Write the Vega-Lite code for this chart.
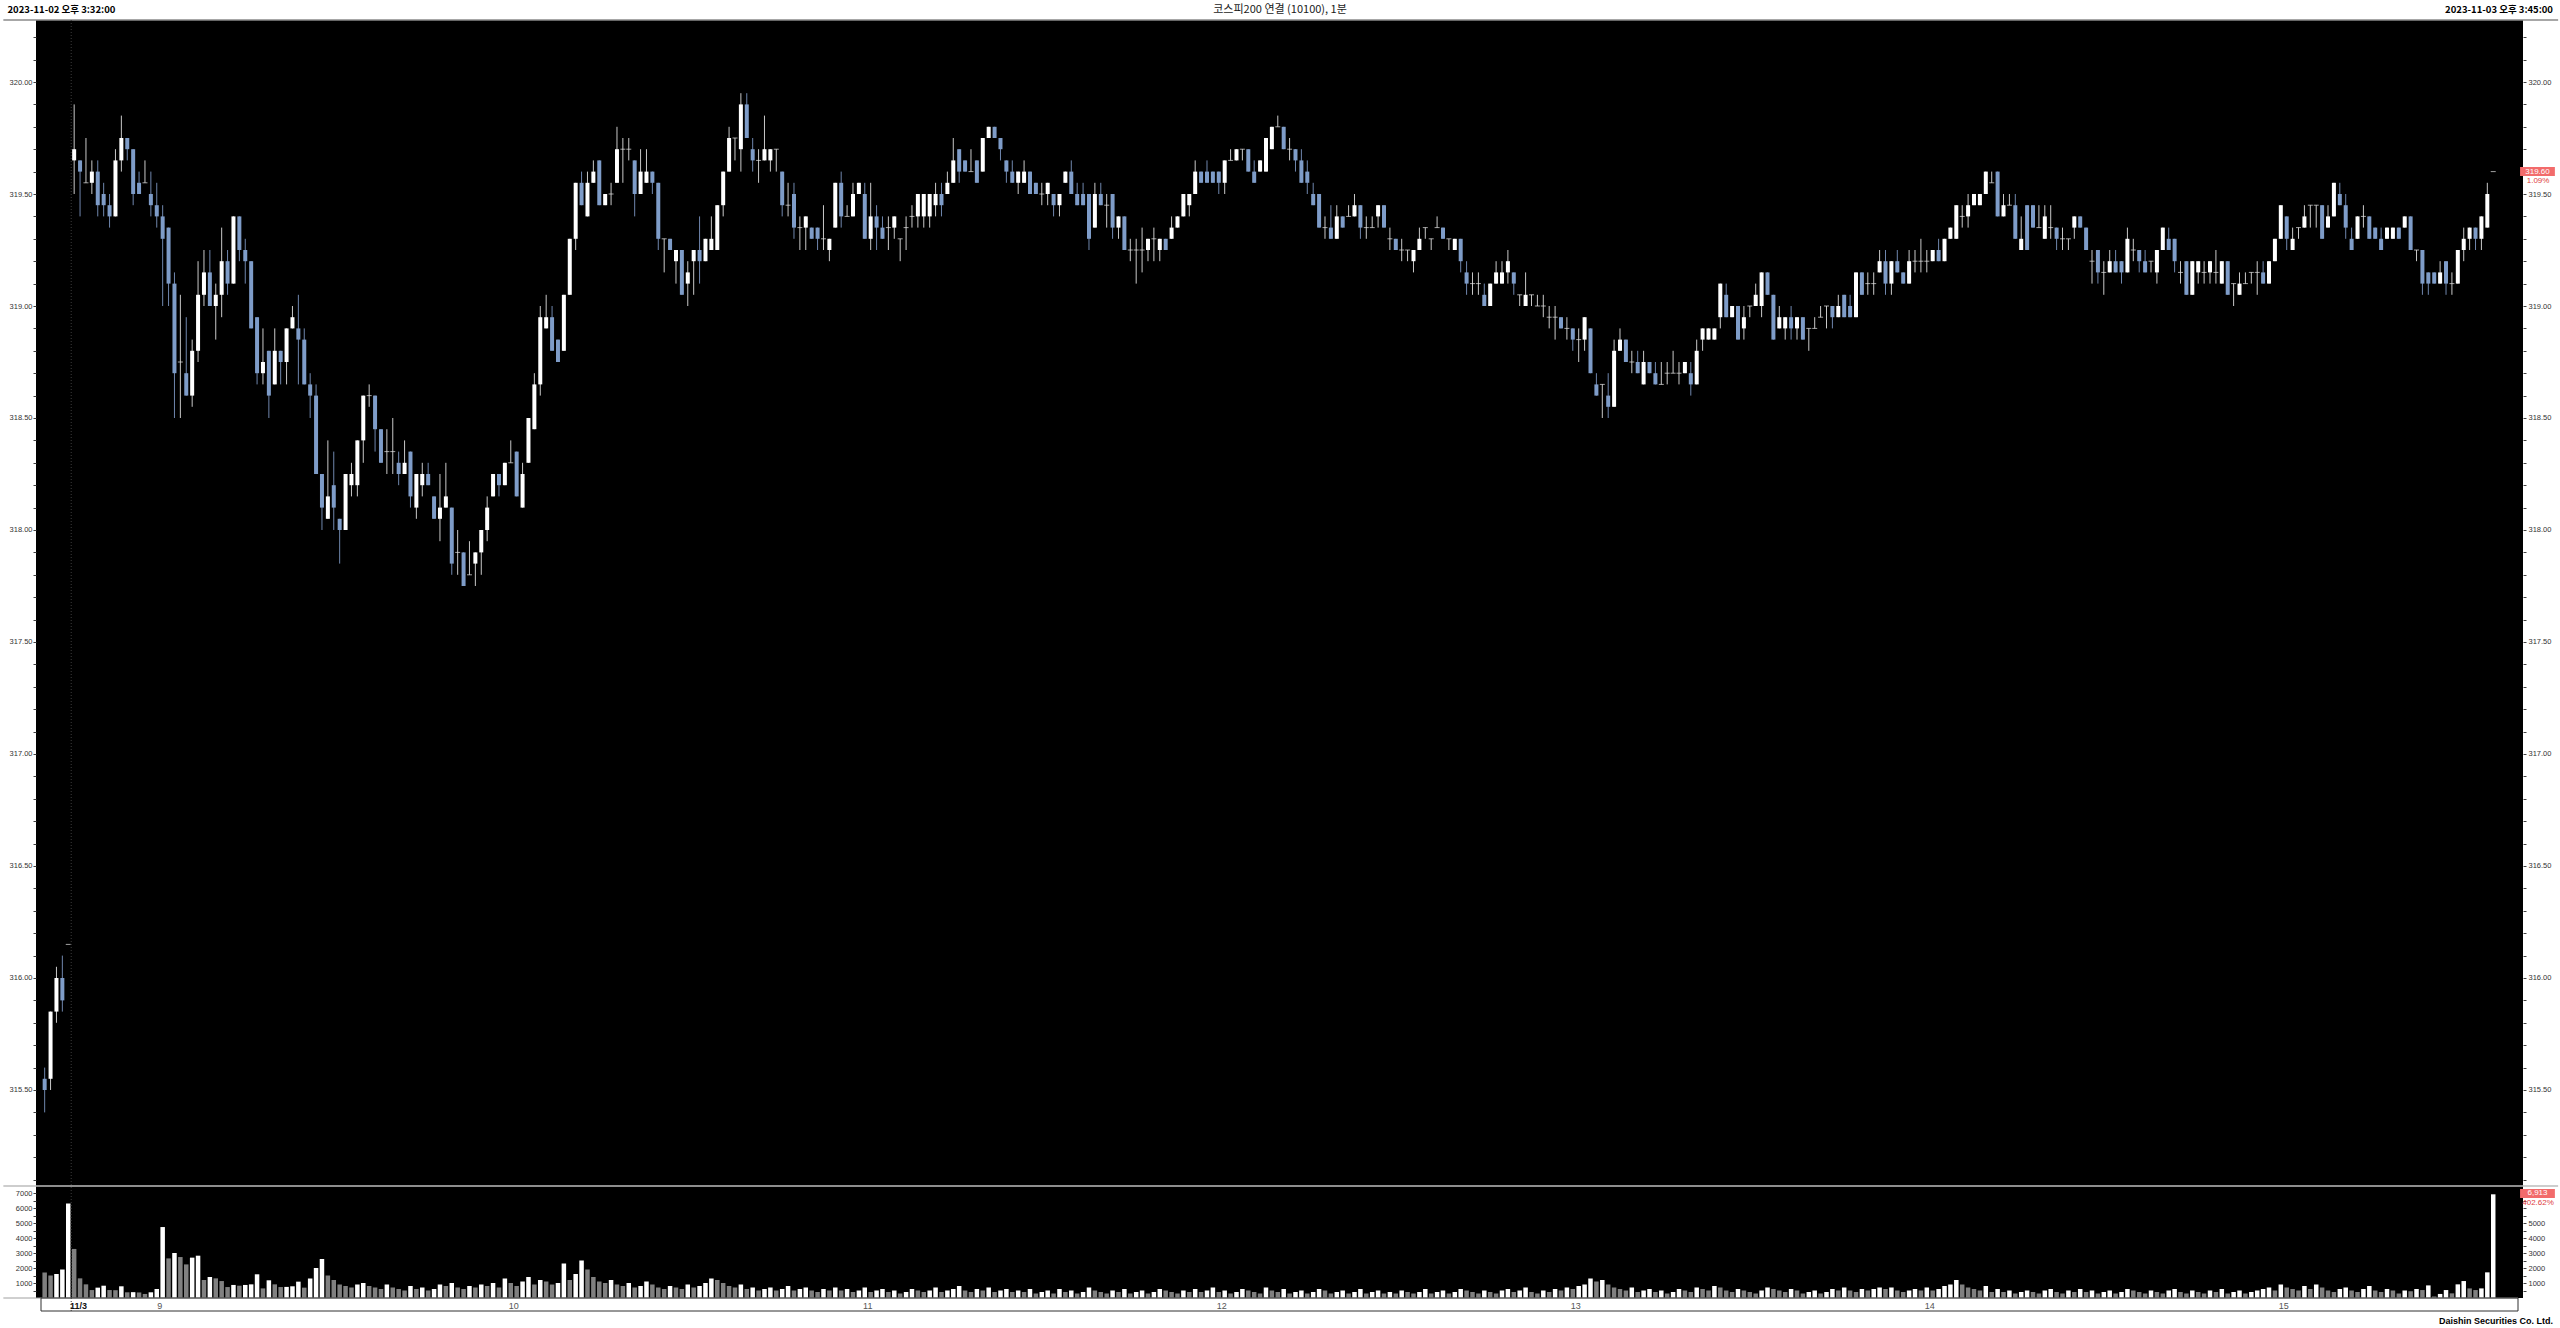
{
"$schema": "https://vega.github.io/schema/vega-lite/v6.json",
"width": 2487, "height": 1278,
"autosize": {"type": "none"},
"padding": {"left": 36, "top": 20, "right": 37, "bottom": 30},
"background": "#ffffff",
"config": {"view": {"fill": "#000000", "stroke": null}, "axis": {"labelFont": "Liberation Sans"}},
"datasets": {
"one": [{"k": 1}],
"hours": [{"i": 19.5, "t": "9"}, {"i": 79.5, "t": "10"}, {"i": 139.5, "t": "11"}, {"i": 199.5, "t": "12"}, {"i": 259.5, "t": "13"}, {"i": 319.5, "t": "14"}, {"i": 379.5, "t": "15"}],
"bars": [
{"i":0,"o":315.55,"h":315.6,"l":315.4,"c":315.5,"v":1700},
{"i":1,"o":315.55,"h":315.85,"l":315.5,"c":315.85,"v":1500},
{"i":2,"o":315.85,"h":316.05,"l":315.8,"c":316,"v":1600},
{"i":3,"o":316,"h":316.1,"l":315.85,"c":315.9,"v":1900},
{"i":4,"o":316.15,"h":316.15,"l":316.15,"c":316.15,"v":6300},
{"i":5,"o":319.65,"h":319.9,"l":319.5,"c":319.7,"v":3270},
{"i":6,"o":319.65,"h":319.65,"l":319.4,"c":319.6,"v":1310},
{"i":7,"o":319.55,"h":319.75,"l":319.55,"c":319.55,"v":910},
{"i":8,"o":319.55,"h":319.65,"l":319.5,"c":319.6,"v":530},
{"i":9,"o":319.6,"h":319.65,"l":319.4,"c":319.45,"v":690},
{"i":10,"o":319.5,"h":319.55,"l":319.4,"c":319.45,"v":820},
{"i":11,"o":319.45,"h":319.5,"l":319.35,"c":319.4,"v":530},
{"i":12,"o":319.4,"h":319.7,"l":319.4,"c":319.65,"v":520},
{"i":13,"o":319.65,"h":319.85,"l":319.6,"c":319.75,"v":780},
{"i":14,"o":319.75,"h":319.75,"l":319.65,"c":319.7,"v":380},
{"i":15,"o":319.7,"h":319.7,"l":319.45,"c":319.5,"v":390},
{"i":16,"o":319.55,"h":319.6,"l":319.5,"c":319.5,"v":370},
{"i":17,"o":319.55,"h":319.65,"l":319.55,"c":319.55,"v":270},
{"i":18,"o":319.5,"h":319.6,"l":319.4,"c":319.45,"v":380},
{"i":19,"o":319.45,"h":319.55,"l":319.35,"c":319.4,"v":600},
{"i":20,"o":319.4,"h":319.45,"l":319,"c":319.3,"v":4730},
{"i":21,"o":319.35,"h":319.35,"l":319,"c":319.1,"v":2640},
{"i":22,"o":319.1,"h":319.15,"l":318.5,"c":318.7,"v":3000},
{"i":23,"o":318.75,"h":319.05,"l":318.5,"c":318.75,"v":2730},
{"i":24,"o":318.7,"h":318.95,"l":318.6,"c":318.6,"v":2240},
{"i":25,"o":318.6,"h":318.85,"l":318.55,"c":318.8,"v":2690},
{"i":26,"o":318.8,"h":319.2,"l":318.75,"c":319.05,"v":2820},
{"i":27,"o":319.05,"h":319.25,"l":319,"c":319.15,"v":1200},
{"i":28,"o":319.15,"h":319.25,"l":319,"c":319,"v":1400},
{"i":29,"o":319,"h":319.1,"l":318.85,"c":319.05,"v":1310},
{"i":30,"o":319.05,"h":319.35,"l":318.95,"c":319.2,"v":1130},
{"i":31,"o":319.2,"h":319.25,"l":319.05,"c":319.1,"v":730},
{"i":32,"o":319.1,"h":319.4,"l":319.1,"c":319.4,"v":870},
{"i":33,"o":319.4,"h":319.4,"l":319.2,"c":319.25,"v":820},
{"i":34,"o":319.25,"h":319.3,"l":319.1,"c":319.2,"v":870},
{"i":35,"o":319.2,"h":319.2,"l":318.9,"c":318.9,"v":910},
{"i":36,"o":318.95,"h":318.95,"l":318.65,"c":318.7,"v":1580},
{"i":37,"o":318.7,"h":318.9,"l":318.65,"c":318.75,"v":640},
{"i":38,"o":318.8,"h":318.8,"l":318.5,"c":318.6,"v":1180},
{"i":39,"o":318.65,"h":318.9,"l":318.65,"c":318.8,"v":910},
{"i":40,"o":318.8,"h":318.8,"l":318.65,"c":318.75,"v":730},
{"i":41,"o":318.75,"h":318.9,"l":318.65,"c":318.9,"v":740},
{"i":42,"o":318.9,"h":319,"l":318.9,"c":318.95,"v":780},
{"i":43,"o":318.9,"h":319.05,"l":318.65,"c":318.85,"v":1090},
{"i":44,"o":318.85,"h":318.9,"l":318.65,"c":318.65,"v":690},
{"i":45,"o":318.65,"h":318.7,"l":318.5,"c":318.6,"v":1300},
{"i":46,"o":318.6,"h":318.65,"l":318.25,"c":318.25,"v":2000},
{"i":47,"o":318.25,"h":318.25,"l":318,"c":318.1,"v":2600},
{"i":48,"o":318.05,"h":318.4,"l":318.05,"c":318.15,"v":1500},
{"i":49,"o":318.2,"h":318.35,"l":318,"c":318.1,"v":1200},
{"i":50,"o":318.05,"h":318.05,"l":317.85,"c":318,"v":900},
{"i":51,"o":318,"h":318.25,"l":318,"c":318.25,"v":800},
{"i":52,"o":318.2,"h":318.3,"l":318.15,"c":318.25,"v":700},
{"i":53,"o":318.2,"h":318.4,"l":318.15,"c":318.4,"v":900},
{"i":54,"o":318.4,"h":318.6,"l":318.3,"c":318.6,"v":1000},
{"i":55,"o":318.6,"h":318.65,"l":318.55,"c":318.6,"v":800},
{"i":56,"o":318.6,"h":318.6,"l":318.35,"c":318.45,"v":700},
{"i":57,"o":318.45,"h":318.45,"l":318.3,"c":318.3,"v":600},
{"i":58,"o":318.35,"h":318.45,"l":318.25,"c":318.35,"v":900},
{"i":59,"o":318.35,"h":318.5,"l":318.25,"c":318.35,"v":700},
{"i":60,"o":318.3,"h":318.35,"l":318.2,"c":318.25,"v":600},
{"i":61,"o":318.25,"h":318.4,"l":318.25,"c":318.3,"v":500},
{"i":62,"o":318.35,"h":318.35,"l":318.1,"c":318.15,"v":800},
{"i":63,"o":318.1,"h":318.25,"l":318.05,"c":318.25,"v":600},
{"i":64,"o":318.2,"h":318.3,"l":318.15,"c":318.25,"v":700},
{"i":65,"o":318.25,"h":318.3,"l":318.2,"c":318.2,"v":500},
{"i":66,"o":318.15,"h":318.15,"l":318.05,"c":318.05,"v":600},
{"i":67,"o":318.05,"h":318.25,"l":317.95,"c":318.1,"v":900},
{"i":68,"o":318.1,"h":318.3,"l":318.1,"c":318.15,"v":800},
{"i":69,"o":318.1,"h":318.1,"l":317.8,"c":317.85,"v":1000},
{"i":70,"o":317.9,"h":318,"l":317.8,"c":317.9,"v":700},
{"i":71,"o":317.9,"h":317.9,"l":317.75,"c":317.75,"v":600},
{"i":72,"o":317.8,"h":317.95,"l":317.8,"c":317.8,"v":800},
{"i":73,"o":317.85,"h":317.9,"l":317.75,"c":317.9,"v":700},
{"i":74,"o":317.9,"h":318,"l":317.8,"c":318,"v":900},
{"i":75,"o":318,"h":318.15,"l":317.95,"c":318.1,"v":800},
{"i":76,"o":318.15,"h":318.25,"l":318.15,"c":318.25,"v":1000},
{"i":77,"o":318.25,"h":318.25,"l":318.15,"c":318.2,"v":700},
{"i":78,"o":318.2,"h":318.3,"l":318.2,"c":318.3,"v":1300},
{"i":79,"o":318.3,"h":318.4,"l":318.3,"c":318.3,"v":1000},
{"i":80,"o":318.35,"h":318.35,"l":318.15,"c":318.15,"v":800},
{"i":81,"o":318.1,"h":318.3,"l":318.1,"c":318.25,"v":1100},
{"i":82,"o":318.3,"h":318.5,"l":318.3,"c":318.5,"v":1400},
{"i":83,"o":318.45,"h":318.7,"l":318.45,"c":318.65,"v":900},
{"i":84,"o":318.65,"h":319,"l":318.6,"c":318.95,"v":1200},
{"i":85,"o":318.9,"h":319.05,"l":318.9,"c":318.95,"v":1100},
{"i":86,"o":318.95,"h":319,"l":318.8,"c":318.8,"v":900},
{"i":87,"o":318.85,"h":318.85,"l":318.75,"c":318.75,"v":1000},
{"i":88,"o":318.8,"h":319.05,"l":318.8,"c":319.05,"v":2300},
{"i":89,"o":319.05,"h":319.3,"l":319.05,"c":319.3,"v":1200},
{"i":90,"o":319.3,"h":319.55,"l":319.25,"c":319.55,"v":1600},
{"i":91,"o":319.55,"h":319.6,"l":319.45,"c":319.45,"v":2500},
{"i":92,"o":319.4,"h":319.6,"l":319.4,"c":319.55,"v":1900},
{"i":93,"o":319.55,"h":319.65,"l":319.55,"c":319.6,"v":1400},
{"i":94,"o":319.65,"h":319.65,"l":319.45,"c":319.45,"v":1100},
{"i":95,"o":319.45,"h":319.5,"l":319.45,"c":319.5,"v":1000},
{"i":96,"o":319.5,"h":319.55,"l":319.45,"c":319.5,"v":1200},
{"i":97,"o":319.55,"h":319.8,"l":319.55,"c":319.7,"v":900},
{"i":98,"o":319.7,"h":319.75,"l":319.55,"c":319.7,"v":800},
{"i":99,"o":319.7,"h":319.75,"l":319.65,"c":319.7,"v":1000},
{"i":100,"o":319.65,"h":319.65,"l":319.4,"c":319.5,"v":700},
{"i":101,"o":319.5,"h":319.7,"l":319.5,"c":319.6,"v":800},
{"i":102,"o":319.55,"h":319.7,"l":319.55,"c":319.6,"v":1100},
{"i":103,"o":319.6,"h":319.6,"l":319.5,"c":319.55,"v":900},
{"i":104,"o":319.55,"h":319.55,"l":319.25,"c":319.3,"v":700},
{"i":105,"o":319.3,"h":319.3,"l":319.15,"c":319.3,"v":600},
{"i":106,"o":319.3,"h":319.3,"l":319.25,"c":319.25,"v":800},
{"i":107,"o":319.2,"h":319.25,"l":319.1,"c":319.25,"v":700},
{"i":108,"o":319.25,"h":319.25,"l":319.05,"c":319.05,"v":600},
{"i":109,"o":319.1,"h":319.2,"l":319,"c":319.15,"v":900},
{"i":110,"o":319.2,"h":319.25,"l":319.05,"c":319.25,"v":700},
{"i":111,"o":319.25,"h":319.4,"l":319.1,"c":319.2,"v":800},
{"i":112,"o":319.2,"h":319.3,"l":319.2,"c":319.3,"v":1000},
{"i":113,"o":319.25,"h":319.4,"l":319.25,"c":319.3,"v":1300},
{"i":114,"o":319.25,"h":319.45,"l":319.25,"c":319.45,"v":1200},
{"i":115,"o":319.45,"h":319.6,"l":319.4,"c":319.6,"v":1000},
{"i":116,"o":319.6,"h":319.8,"l":319.6,"c":319.75,"v":800},
{"i":117,"o":319.75,"h":319.75,"l":319.65,"c":319.75,"v":700},
{"i":118,"o":319.7,"h":319.95,"l":319.6,"c":319.9,"v":900},
{"i":119,"o":319.9,"h":319.95,"l":319.75,"c":319.75,"v":600},
{"i":120,"o":319.7,"h":319.75,"l":319.6,"c":319.65,"v":700},
{"i":121,"o":319.65,"h":319.7,"l":319.55,"c":319.65,"v":500},
{"i":122,"o":319.65,"h":319.85,"l":319.65,"c":319.7,"v":600},
{"i":123,"o":319.65,"h":319.7,"l":319.6,"c":319.7,"v":700},
{"i":124,"o":319.7,"h":319.7,"l":319.6,"c":319.7,"v":500},
{"i":125,"o":319.6,"h":319.6,"l":319.4,"c":319.45,"v":600},
{"i":126,"o":319.45,"h":319.55,"l":319.4,"c":319.45,"v":800},
{"i":127,"o":319.5,"h":319.55,"l":319.3,"c":319.35,"v":500},
{"i":128,"o":319.35,"h":319.4,"l":319.25,"c":319.35,"v":600},
{"i":129,"o":319.35,"h":319.4,"l":319.25,"c":319.4,"v":700},
{"i":130,"o":319.35,"h":319.35,"l":319.3,"c":319.3,"v":500},
{"i":131,"o":319.35,"h":319.35,"l":319.25,"c":319.3,"v":400},
{"i":132,"o":319.3,"h":319.45,"l":319.25,"c":319.3,"v":600},
{"i":133,"o":319.25,"h":319.3,"l":319.2,"c":319.3,"v":500},
{"i":134,"o":319.35,"h":319.55,"l":319.35,"c":319.55,"v":700},
{"i":135,"o":319.55,"h":319.6,"l":319.35,"c":319.4,"v":500},
{"i":136,"o":319.4,"h":319.45,"l":319.4,"c":319.4,"v":600},
{"i":137,"o":319.4,"h":319.55,"l":319.4,"c":319.5,"v":400},
{"i":138,"o":319.5,"h":319.55,"l":319.5,"c":319.55,"v":500},
{"i":139,"o":319.5,"h":319.55,"l":319.3,"c":319.3,"v":700},
{"i":140,"o":319.3,"h":319.55,"l":319.25,"c":319.4,"v":400},
{"i":141,"o":319.4,"h":319.45,"l":319.25,"c":319.35,"v":500},
{"i":142,"o":319.35,"h":319.4,"l":319.3,"c":319.3,"v":600},
{"i":143,"o":319.35,"h":319.4,"l":319.25,"c":319.35,"v":400},
{"i":144,"o":319.35,"h":319.4,"l":319.3,"c":319.4,"v":500},
{"i":145,"o":319.3,"h":319.3,"l":319.2,"c":319.3,"v":300},
{"i":146,"o":319.35,"h":319.4,"l":319.25,"c":319.35,"v":400},
{"i":147,"o":319.4,"h":319.45,"l":319.35,"c":319.4,"v":600},
{"i":148,"o":319.4,"h":319.5,"l":319.35,"c":319.5,"v":500},
{"i":149,"o":319.4,"h":319.5,"l":319.35,"c":319.5,"v":400},
{"i":150,"o":319.4,"h":319.5,"l":319.35,"c":319.5,"v":500},
{"i":151,"o":319.45,"h":319.55,"l":319.4,"c":319.5,"v":700},
{"i":152,"o":319.5,"h":319.55,"l":319.4,"c":319.45,"v":400},
{"i":153,"o":319.5,"h":319.6,"l":319.5,"c":319.55,"v":500},
{"i":154,"o":319.55,"h":319.75,"l":319.55,"c":319.65,"v":600},
{"i":155,"o":319.7,"h":319.7,"l":319.55,"c":319.6,"v":800},
{"i":156,"o":319.65,"h":319.65,"l":319.6,"c":319.6,"v":500},
{"i":157,"o":319.6,"h":319.7,"l":319.6,"c":319.6,"v":400},
{"i":158,"o":319.65,"h":319.65,"l":319.55,"c":319.55,"v":600},
{"i":159,"o":319.6,"h":319.75,"l":319.6,"c":319.75,"v":500},
{"i":160,"o":319.75,"h":319.8,"l":319.75,"c":319.8,"v":700},
{"i":161,"o":319.8,"h":319.8,"l":319.75,"c":319.75,"v":400},
{"i":162,"o":319.75,"h":319.75,"l":319.65,"c":319.7,"v":500},
{"i":163,"o":319.65,"h":319.65,"l":319.55,"c":319.6,"v":600},
{"i":164,"o":319.6,"h":319.65,"l":319.55,"c":319.55,"v":400},
{"i":165,"o":319.55,"h":319.6,"l":319.5,"c":319.6,"v":500},
{"i":166,"o":319.55,"h":319.65,"l":319.55,"c":319.6,"v":400},
{"i":167,"o":319.6,"h":319.6,"l":319.5,"c":319.5,"v":600},
{"i":168,"o":319.55,"h":319.55,"l":319.5,"c":319.5,"v":300},
{"i":169,"o":319.5,"h":319.55,"l":319.45,"c":319.5,"v":400},
{"i":170,"o":319.5,"h":319.55,"l":319.45,"c":319.55,"v":500},
{"i":171,"o":319.5,"h":319.5,"l":319.4,"c":319.45,"v":300},
{"i":172,"o":319.45,"h":319.5,"l":319.4,"c":319.5,"v":600},
{"i":173,"o":319.55,"h":319.6,"l":319.55,"c":319.6,"v":400},
{"i":174,"o":319.6,"h":319.65,"l":319.5,"c":319.5,"v":500},
{"i":175,"o":319.5,"h":319.55,"l":319.45,"c":319.45,"v":300},
{"i":176,"o":319.5,"h":319.55,"l":319.45,"c":319.45,"v":400},
{"i":177,"o":319.5,"h":319.5,"l":319.25,"c":319.3,"v":700},
{"i":178,"o":319.35,"h":319.55,"l":319.35,"c":319.5,"v":500},
{"i":179,"o":319.5,"h":319.55,"l":319.45,"c":319.45,"v":400},
{"i":180,"o":319.45,"h":319.5,"l":319.35,"c":319.45,"v":300},
{"i":181,"o":319.5,"h":319.5,"l":319.3,"c":319.35,"v":500},
{"i":182,"o":319.35,"h":319.4,"l":319.3,"c":319.4,"v":400},
{"i":183,"o":319.4,"h":319.4,"l":319.25,"c":319.25,"v":600},
{"i":184,"o":319.25,"h":319.3,"l":319.2,"c":319.25,"v":300},
{"i":185,"o":319.25,"h":319.3,"l":319.1,"c":319.25,"v":400},
{"i":186,"o":319.25,"h":319.35,"l":319.15,"c":319.25,"v":500},
{"i":187,"o":319.25,"h":319.3,"l":319.2,"c":319.3,"v":300},
{"i":188,"o":319.3,"h":319.35,"l":319.2,"c":319.3,"v":400},
{"i":189,"o":319.25,"h":319.3,"l":319.2,"c":319.3,"v":600},
{"i":190,"o":319.3,"h":319.3,"l":319.25,"c":319.25,"v":500},
{"i":191,"o":319.3,"h":319.4,"l":319.3,"c":319.35,"v":400},
{"i":192,"o":319.35,"h":319.4,"l":319.35,"c":319.4,"v":300},
{"i":193,"o":319.4,"h":319.5,"l":319.4,"c":319.5,"v":500},
{"i":194,"o":319.45,"h":319.5,"l":319.4,"c":319.5,"v":400},
{"i":195,"o":319.5,"h":319.65,"l":319.5,"c":319.6,"v":600},
{"i":196,"o":319.6,"h":319.6,"l":319.55,"c":319.55,"v":400},
{"i":197,"o":319.6,"h":319.65,"l":319.55,"c":319.55,"v":500},
{"i":198,"o":319.6,"h":319.6,"l":319.55,"c":319.55,"v":700},
{"i":199,"o":319.6,"h":319.6,"l":319.5,"c":319.55,"v":400},
{"i":200,"o":319.55,"h":319.65,"l":319.5,"c":319.65,"v":500},
{"i":201,"o":319.65,"h":319.7,"l":319.65,"c":319.65,"v":300},
{"i":202,"o":319.65,"h":319.7,"l":319.65,"c":319.7,"v":400},
{"i":203,"o":319.7,"h":319.7,"l":319.65,"c":319.7,"v":600},
{"i":204,"o":319.7,"h":319.7,"l":319.6,"c":319.6,"v":500},
{"i":205,"o":319.6,"h":319.65,"l":319.55,"c":319.55,"v":400},
{"i":206,"o":319.6,"h":319.65,"l":319.6,"c":319.65,"v":300},
{"i":207,"o":319.6,"h":319.75,"l":319.6,"c":319.75,"v":700},
{"i":208,"o":319.7,"h":319.8,"l":319.7,"c":319.8,"v":500},
{"i":209,"o":319.8,"h":319.85,"l":319.8,"c":319.8,"v":400},
{"i":210,"o":319.8,"h":319.8,"l":319.7,"c":319.7,"v":600},
{"i":211,"o":319.7,"h":319.75,"l":319.65,"c":319.7,"v":300},
{"i":212,"o":319.7,"h":319.7,"l":319.6,"c":319.65,"v":400},
{"i":213,"o":319.65,"h":319.7,"l":319.55,"c":319.55,"v":500},
{"i":214,"o":319.6,"h":319.65,"l":319.5,"c":319.55,"v":300},
{"i":215,"o":319.5,"h":319.55,"l":319.45,"c":319.45,"v":400},
{"i":216,"o":319.5,"h":319.5,"l":319.35,"c":319.35,"v":600},
{"i":217,"o":319.35,"h":319.4,"l":319.3,"c":319.35,"v":500},
{"i":218,"o":319.35,"h":319.45,"l":319.3,"c":319.3,"v":300},
{"i":219,"o":319.3,"h":319.45,"l":319.3,"c":319.4,"v":400},
{"i":220,"o":319.4,"h":319.4,"l":319.35,"c":319.35,"v":500},
{"i":221,"o":319.4,"h":319.45,"l":319.4,"c":319.4,"v":300},
{"i":222,"o":319.4,"h":319.5,"l":319.4,"c":319.45,"v":400},
{"i":223,"o":319.45,"h":319.45,"l":319.3,"c":319.35,"v":600},
{"i":224,"o":319.35,"h":319.4,"l":319.3,"c":319.35,"v":300},
{"i":225,"o":319.35,"h":319.4,"l":319.35,"c":319.35,"v":400},
{"i":226,"o":319.4,"h":319.45,"l":319.35,"c":319.45,"v":500},
{"i":227,"o":319.45,"h":319.45,"l":319.35,"c":319.35,"v":300},
{"i":228,"o":319.3,"h":319.35,"l":319.25,"c":319.3,"v":400},
{"i":229,"o":319.3,"h":319.3,"l":319.25,"c":319.25,"v":300},
{"i":230,"o":319.25,"h":319.3,"l":319.2,"c":319.25,"v":500},
{"i":231,"o":319.25,"h":319.25,"l":319.2,"c":319.25,"v":400},
{"i":232,"o":319.2,"h":319.25,"l":319.15,"c":319.25,"v":300},
{"i":233,"o":319.25,"h":319.35,"l":319.25,"c":319.3,"v":400},
{"i":234,"o":319.35,"h":319.35,"l":319.3,"c":319.35,"v":600},
{"i":235,"o":319.3,"h":319.3,"l":319.25,"c":319.3,"v":300},
{"i":236,"o":319.35,"h":319.4,"l":319.35,"c":319.35,"v":400},
{"i":237,"o":319.35,"h":319.35,"l":319.3,"c":319.3,"v":500},
{"i":238,"o":319.3,"h":319.3,"l":319.25,"c":319.3,"v":300},
{"i":239,"o":319.25,"h":319.3,"l":319.25,"c":319.3,"v":400},
{"i":240,"o":319.3,"h":319.3,"l":319.15,"c":319.2,"v":600},
{"i":241,"o":319.15,"h":319.2,"l":319.05,"c":319.1,"v":500},
{"i":242,"o":319.1,"h":319.15,"l":319.05,"c":319.1,"v":400},
{"i":243,"o":319.1,"h":319.15,"l":319.05,"c":319.1,"v":300},
{"i":244,"o":319.05,"h":319.1,"l":319,"c":319,"v":500},
{"i":245,"o":319,"h":319.1,"l":319,"c":319.1,"v":400},
{"i":246,"o":319.1,"h":319.2,"l":319.1,"c":319.15,"v":300},
{"i":247,"o":319.1,"h":319.2,"l":319.1,"c":319.15,"v":500},
{"i":248,"o":319.15,"h":319.25,"l":319.1,"c":319.2,"v":600},
{"i":249,"o":319.15,"h":319.15,"l":319.05,"c":319.1,"v":400},
{"i":250,"o":319.05,"h":319.05,"l":319,"c":319.05,"v":500},
{"i":251,"o":319,"h":319.15,"l":319,"c":319.05,"v":700},
{"i":252,"o":319.05,"h":319.05,"l":319,"c":319.05,"v":400},
{"i":253,"o":319,"h":319.05,"l":319,"c":319,"v":300},
{"i":254,"o":319,"h":319.05,"l":318.95,"c":319,"v":500},
{"i":255,"o":318.95,"h":319,"l":318.9,"c":318.95,"v":400},
{"i":256,"o":318.95,"h":319,"l":318.85,"c":318.95,"v":600},
{"i":257,"o":318.95,"h":318.95,"l":318.9,"c":318.9,"v":500},
{"i":258,"o":318.9,"h":318.95,"l":318.85,"c":318.9,"v":700},
{"i":259,"o":318.9,"h":318.9,"l":318.8,"c":318.85,"v":600},
{"i":260,"o":318.85,"h":318.9,"l":318.75,"c":318.85,"v":800},
{"i":261,"o":318.85,"h":318.95,"l":318.8,"c":318.95,"v":900},
{"i":262,"o":318.9,"h":318.9,"l":318.7,"c":318.7,"v":1300},
{"i":263,"o":318.65,"h":318.7,"l":318.6,"c":318.6,"v":1100},
{"i":264,"o":318.65,"h":318.65,"l":318.5,"c":318.65,"v":1200},
{"i":265,"o":318.6,"h":318.7,"l":318.5,"c":318.55,"v":900},
{"i":266,"o":318.55,"h":318.85,"l":318.55,"c":318.8,"v":700},
{"i":267,"o":318.8,"h":318.9,"l":318.8,"c":318.85,"v":600},
{"i":268,"o":318.85,"h":318.85,"l":318.75,"c":318.75,"v":500},
{"i":269,"o":318.75,"h":318.8,"l":318.7,"c":318.75,"v":700},
{"i":270,"o":318.75,"h":318.8,"l":318.7,"c":318.7,"v":400},
{"i":271,"o":318.65,"h":318.8,"l":318.65,"c":318.75,"v":500},
{"i":272,"o":318.75,"h":318.75,"l":318.7,"c":318.7,"v":600},
{"i":273,"o":318.7,"h":318.75,"l":318.65,"c":318.65,"v":400},
{"i":274,"o":318.65,"h":318.75,"l":318.65,"c":318.65,"v":500},
{"i":275,"o":318.7,"h":318.75,"l":318.65,"c":318.7,"v":300},
{"i":276,"o":318.7,"h":318.8,"l":318.7,"c":318.7,"v":400},
{"i":277,"o":318.7,"h":318.75,"l":318.65,"c":318.7,"v":600},
{"i":278,"o":318.7,"h":318.75,"l":318.7,"c":318.75,"v":500},
{"i":279,"o":318.7,"h":318.75,"l":318.6,"c":318.65,"v":400},
{"i":280,"o":318.65,"h":318.85,"l":318.65,"c":318.8,"v":700},
{"i":281,"o":318.85,"h":318.9,"l":318.8,"c":318.9,"v":600},
{"i":282,"o":318.85,"h":318.9,"l":318.85,"c":318.9,"v":500},
{"i":283,"o":318.85,"h":318.9,"l":318.85,"c":318.9,"v":800},
{"i":284,"o":318.95,"h":319.1,"l":318.9,"c":319.1,"v":700},
{"i":285,"o":319.05,"h":319.1,"l":318.95,"c":318.95,"v":500},
{"i":286,"o":318.95,"h":319,"l":318.95,"c":319,"v":400},
{"i":287,"o":319,"h":319,"l":318.85,"c":318.85,"v":600},
{"i":288,"o":318.9,"h":319,"l":318.85,"c":318.95,"v":500},
{"i":289,"o":319,"h":319,"l":318.95,"c":319,"v":400},
{"i":290,"o":319,"h":319.1,"l":319,"c":319.05,"v":300},
{"i":291,"o":319,"h":319.15,"l":318.95,"c":319.15,"v":500},
{"i":292,"o":319.15,"h":319.15,"l":319.05,"c":319.05,"v":700},
{"i":293,"o":319.05,"h":319.05,"l":318.85,"c":318.85,"v":600},
{"i":294,"o":318.9,"h":319,"l":318.9,"c":318.95,"v":500},
{"i":295,"o":318.9,"h":318.95,"l":318.85,"c":318.95,"v":400},
{"i":296,"o":318.95,"h":319,"l":318.85,"c":318.9,"v":600},
{"i":297,"o":318.9,"h":318.95,"l":318.85,"c":318.95,"v":500},
{"i":298,"o":318.95,"h":318.95,"l":318.85,"c":318.85,"v":300},
{"i":299,"o":318.9,"h":318.9,"l":318.8,"c":318.9,"v":400},
{"i":300,"o":318.9,"h":318.95,"l":318.9,"c":318.9,"v":500},
{"i":301,"o":318.95,"h":319,"l":318.95,"c":318.95,"v":300},
{"i":302,"o":319,"h":319,"l":318.9,"c":319,"v":400},
{"i":303,"o":319,"h":319,"l":318.9,"c":318.95,"v":600},
{"i":304,"o":318.95,"h":319.05,"l":318.95,"c":319,"v":500},
{"i":305,"o":319.05,"h":319.05,"l":318.95,"c":318.95,"v":700},
{"i":306,"o":319,"h":319.05,"l":318.95,"c":318.95,"v":500},
{"i":307,"o":318.95,"h":319.15,"l":318.95,"c":319.15,"v":400},
{"i":308,"o":319.15,"h":319.15,"l":319.05,"c":319.05,"v":600},
{"i":309,"o":319.1,"h":319.15,"l":319.05,"c":319.1,"v":500},
{"i":310,"o":319.1,"h":319.15,"l":319.05,"c":319.1,"v":600},
{"i":311,"o":319.15,"h":319.25,"l":319.15,"c":319.2,"v":700},
{"i":312,"o":319.2,"h":319.25,"l":319.05,"c":319.1,"v":600},
{"i":313,"o":319.1,"h":319.2,"l":319.05,"c":319.2,"v":700},
{"i":314,"o":319.2,"h":319.25,"l":319.15,"c":319.15,"v":500},
{"i":315,"o":319.15,"h":319.15,"l":319.1,"c":319.1,"v":400},
{"i":316,"o":319.1,"h":319.25,"l":319.1,"c":319.2,"v":500},
{"i":317,"o":319.2,"h":319.25,"l":319.15,"c":319.2,"v":600},
{"i":318,"o":319.2,"h":319.3,"l":319.15,"c":319.2,"v":500},
{"i":319,"o":319.2,"h":319.25,"l":319.15,"c":319.2,"v":700},
{"i":320,"o":319.2,"h":319.25,"l":319.2,"c":319.25,"v":500},
{"i":321,"o":319.25,"h":319.3,"l":319.2,"c":319.2,"v":600},
{"i":322,"o":319.2,"h":319.3,"l":319.2,"c":319.3,"v":800},
{"i":323,"o":319.3,"h":319.35,"l":319.3,"c":319.35,"v":900},
{"i":324,"o":319.3,"h":319.45,"l":319.3,"c":319.45,"v":1200},
{"i":325,"o":319.4,"h":319.45,"l":319.35,"c":319.4,"v":900},
{"i":326,"o":319.4,"h":319.5,"l":319.35,"c":319.45,"v":700},
{"i":327,"o":319.45,"h":319.5,"l":319.45,"c":319.5,"v":600},
{"i":328,"o":319.45,"h":319.5,"l":319.45,"c":319.5,"v":500},
{"i":329,"o":319.5,"h":319.6,"l":319.5,"c":319.6,"v":800},
{"i":330,"o":319.55,"h":319.6,"l":319.55,"c":319.55,"v":400},
{"i":331,"o":319.6,"h":319.6,"l":319.4,"c":319.4,"v":600},
{"i":332,"o":319.4,"h":319.5,"l":319.4,"c":319.45,"v":400},
{"i":333,"o":319.45,"h":319.5,"l":319.45,"c":319.45,"v":500},
{"i":334,"o":319.45,"h":319.5,"l":319.3,"c":319.3,"v":300},
{"i":335,"o":319.25,"h":319.4,"l":319.25,"c":319.3,"v":400},
{"i":336,"o":319.45,"h":319.45,"l":319.25,"c":319.25,"v":500},
{"i":337,"o":319.45,"h":319.45,"l":319.35,"c":319.35,"v":400},
{"i":338,"o":319.35,"h":319.45,"l":319.35,"c":319.35,"v":300},
{"i":339,"o":319.3,"h":319.45,"l":319.3,"c":319.4,"v":500},
{"i":340,"o":319.35,"h":319.45,"l":319.3,"c":319.35,"v":600},
{"i":341,"o":319.35,"h":319.35,"l":319.25,"c":319.3,"v":400},
{"i":342,"o":319.3,"h":319.35,"l":319.25,"c":319.3,"v":300},
{"i":343,"o":319.3,"h":319.3,"l":319.25,"c":319.3,"v":500},
{"i":344,"o":319.35,"h":319.4,"l":319.3,"c":319.4,"v":400},
{"i":345,"o":319.4,"h":319.4,"l":319.35,"c":319.35,"v":600},
{"i":346,"o":319.35,"h":319.35,"l":319.25,"c":319.25,"v":400},
{"i":347,"o":319.2,"h":319.25,"l":319.1,"c":319.2,"v":500},
{"i":348,"o":319.25,"h":319.25,"l":319.1,"c":319.15,"v":300},
{"i":349,"o":319.15,"h":319.2,"l":319.05,"c":319.15,"v":400},
{"i":350,"o":319.15,"h":319.25,"l":319.15,"c":319.2,"v":500},
{"i":351,"o":319.2,"h":319.25,"l":319.15,"c":319.15,"v":300},
{"i":352,"o":319.2,"h":319.2,"l":319.1,"c":319.15,"v":400},
{"i":353,"o":319.15,"h":319.35,"l":319.15,"c":319.3,"v":600},
{"i":354,"o":319.25,"h":319.3,"l":319.2,"c":319.25,"v":500},
{"i":355,"o":319.25,"h":319.25,"l":319.15,"c":319.2,"v":400},
{"i":356,"o":319.2,"h":319.25,"l":319.15,"c":319.15,"v":300},
{"i":357,"o":319.2,"h":319.2,"l":319.15,"c":319.2,"v":500},
{"i":358,"o":319.15,"h":319.25,"l":319.1,"c":319.25,"v":400},
{"i":359,"o":319.25,"h":319.35,"l":319.25,"c":319.35,"v":300},
{"i":360,"o":319.3,"h":319.35,"l":319.25,"c":319.25,"v":500},
{"i":361,"o":319.3,"h":319.3,"l":319.15,"c":319.2,"v":600},
{"i":362,"o":319.15,"h":319.2,"l":319.1,"c":319.15,"v":400},
{"i":363,"o":319.2,"h":319.2,"l":319.05,"c":319.05,"v":300},
{"i":364,"o":319.05,"h":319.2,"l":319.05,"c":319.2,"v":500},
{"i":365,"o":319.15,"h":319.2,"l":319.1,"c":319.2,"v":400},
{"i":366,"o":319.15,"h":319.2,"l":319.1,"c":319.15,"v":300},
{"i":367,"o":319.15,"h":319.2,"l":319.1,"c":319.2,"v":500},
{"i":368,"o":319.15,"h":319.25,"l":319.1,"c":319.15,"v":400},
{"i":369,"o":319.1,"h":319.2,"l":319.1,"c":319.2,"v":600},
{"i":370,"o":319.2,"h":319.2,"l":319.05,"c":319.05,"v":300},
{"i":371,"o":319.1,"h":319.1,"l":319,"c":319.1,"v":400},
{"i":372,"o":319.05,"h":319.15,"l":319.05,"c":319.1,"v":500},
{"i":373,"o":319.1,"h":319.15,"l":319.1,"c":319.1,"v":300},
{"i":374,"o":319.15,"h":319.15,"l":319.1,"c":319.15,"v":400},
{"i":375,"o":319.15,"h":319.2,"l":319.05,"c":319.15,"v":500},
{"i":376,"o":319.15,"h":319.2,"l":319.1,"c":319.1,"v":600},
{"i":377,"o":319.1,"h":319.2,"l":319.1,"c":319.2,"v":700},
{"i":378,"o":319.2,"h":319.3,"l":319.2,"c":319.3,"v":500},
{"i":379,"o":319.3,"h":319.45,"l":319.3,"c":319.45,"v":900},
{"i":380,"o":319.4,"h":319.4,"l":319.25,"c":319.3,"v":700},
{"i":381,"o":319.25,"h":319.35,"l":319.25,"c":319.3,"v":600},
{"i":382,"o":319.35,"h":319.35,"l":319.3,"c":319.35,"v":500},
{"i":383,"o":319.35,"h":319.45,"l":319.35,"c":319.4,"v":800},
{"i":384,"o":319.45,"h":319.45,"l":319.35,"c":319.45,"v":600},
{"i":385,"o":319.45,"h":319.45,"l":319.35,"c":319.45,"v":900},
{"i":386,"o":319.45,"h":319.45,"l":319.3,"c":319.3,"v":700},
{"i":387,"o":319.35,"h":319.45,"l":319.35,"c":319.4,"v":500},
{"i":388,"o":319.4,"h":319.55,"l":319.4,"c":319.55,"v":400},
{"i":389,"o":319.5,"h":319.55,"l":319.45,"c":319.45,"v":600},
{"i":390,"o":319.45,"h":319.5,"l":319.3,"c":319.35,"v":700},
{"i":391,"o":319.3,"h":319.35,"l":319.25,"c":319.25,"v":500},
{"i":392,"o":319.3,"h":319.4,"l":319.3,"c":319.4,"v":400},
{"i":393,"o":319.4,"h":319.45,"l":319.35,"c":319.4,"v":600},
{"i":394,"o":319.4,"h":319.4,"l":319.3,"c":319.3,"v":800},
{"i":395,"o":319.35,"h":319.35,"l":319.3,"c":319.3,"v":500},
{"i":396,"o":319.3,"h":319.35,"l":319.25,"c":319.25,"v":400},
{"i":397,"o":319.3,"h":319.35,"l":319.3,"c":319.35,"v":600},
{"i":398,"o":319.3,"h":319.35,"l":319.3,"c":319.35,"v":500},
{"i":399,"o":319.35,"h":319.35,"l":319.3,"c":319.3,"v":300},
{"i":400,"o":319.35,"h":319.4,"l":319.35,"c":319.4,"v":500},
{"i":401,"o":319.4,"h":319.4,"l":319.25,"c":319.25,"v":450},
{"i":402,"o":319.25,"h":319.25,"l":319.2,"c":319.25,"v":600},
{"i":403,"o":319.25,"h":319.25,"l":319.05,"c":319.1,"v":530},
{"i":404,"o":319.15,"h":319.15,"l":319.05,"c":319.1,"v":840},
{"i":405,"o":319.15,"h":319.15,"l":319.1,"c":319.1,"v":100},
{"i":406,"o":319.1,"h":319.2,"l":319.1,"c":319.15,"v":270},
{"i":407,"o":319.2,"h":319.2,"l":319.05,"c":319.1,"v":530},
{"i":408,"o":319.1,"h":319.15,"l":319.05,"c":319.1,"v":310},
{"i":409,"o":319.1,"h":319.25,"l":319.1,"c":319.25,"v":910},
{"i":410,"o":319.25,"h":319.35,"l":319.2,"c":319.3,"v":1130},
{"i":411,"o":319.3,"h":319.35,"l":319.25,"c":319.35,"v":640},
{"i":412,"o":319.35,"h":319.35,"l":319.25,"c":319.3,"v":530},
{"i":413,"o":319.3,"h":319.4,"l":319.25,"c":319.4,"v":640},
{"i":414,"o":319.35,"h":319.55,"l":319.35,"c":319.5,"v":1710},
{"i":415,"o":319.6,"h":319.6,"l":319.6,"c":319.6,"v":6913}
]},
"data": {"name": "bars"},
"resolve": {"scale": {"y": "independent"}, "axis": {"y": "independent"}},
"layer": [
{
"mark": {"type": "rule", "strokeWidth": 1},
"encoding": {
"x": {"field": "i", "type": "quantitative", "scale": {"domain": [-0.62, 419.2], "nice": false, "zero": false}, "axis": null},
"y": {"field": "l", "type": "quantitative", "scale": {"domain": [315.0714, 320.2768], "range": [1166, 0], "nice": false, "zero": false},
"axis": {"orient": "left", "title": null, "values": [315.1,315.2,315.3,315.4,315.5,315.6,315.7,315.8,315.9,316,316.1,316.2,316.3,316.4,316.5,316.6,316.7,316.8,316.9,317,317.1,317.2,317.3,317.4,317.5,317.6,317.7,317.8,317.9,318,318.1,318.2,318.3,318.4,318.5,318.6,318.7,318.8,318.9,319,319.1,319.2,319.3,319.4,319.5,319.6,319.7,319.8,319.9,320,320.1,320.2],
"labelExpr": "round(datum.value*10)%5==0 ? format(datum.value, '.2f') : ''", "tickSize": 3, "tickColor": "#404040", "domain": false, "grid": false, "labelFontSize": 7.5, "labelColor": "#333333", "labelPadding": 1, "labelOverlap": false, "labelFlush": false, "labelBound": false}},
"y2": {"field": "h"},
"color": {"condition": {"test": "datum.c < datum.o", "value": "#6f86ad"}, "value": "#c8c8c8"}
}
},
{
"transform": [{"filter": "datum.o != datum.c"}],
"mark": {"type": "bar", "size": 4, "orient": "vertical"},
"encoding": {
"x": {"field": "i", "type": "quantitative", "scale": {"domain": [-0.62, 419.2], "nice": false, "zero": false}, "axis": null},
"y": {"field": "o", "type": "quantitative", "scale": {"domain": [315.0714, 320.2768], "range": [1166, 0], "nice": false, "zero": false},
"axis": {"orient": "right", "title": null, "values": [315.1,315.2,315.3,315.4,315.5,315.6,315.7,315.8,315.9,316,316.1,316.2,316.3,316.4,316.5,316.6,316.7,316.8,316.9,317,317.1,317.2,317.3,317.4,317.5,317.6,317.7,317.8,317.9,318,318.1,318.2,318.3,318.4,318.5,318.6,318.7,318.8,318.9,319,319.1,319.2,319.3,319.4,319.5,319.6,319.7,319.8,319.9,320,320.1,320.2],
"labelExpr": "round(datum.value*10)%5==0 ? format(datum.value, '.2f') : ''", "tickSize": 3, "tickColor": "#404040", "domain": false, "grid": false, "labelFontSize": 7.5, "labelColor": "#333333", "labelPadding": 2, "labelOverlap": false, "labelFlush": false, "labelBound": false}},
"y2": {"field": "c"},
"color": {"condition": {"test": "datum.c > datum.o", "value": "#ffffff"}, "value": "#7e9cc8"}
}
},
{
"transform": [{"filter": "datum.o == datum.c"}],
"mark": {"type": "tick", "orient": "horizontal", "size": 5, "thickness": 1, "color": "#e6e6e6"},
"encoding": {
"x": {"field": "i", "type": "quantitative", "scale": {"domain": [-0.62, 419.2], "nice": false, "zero": false}, "axis": null},
"y": {"field": "c", "type": "quantitative", "scale": {"domain": [315.0714, 320.2768], "range": [1166, 0], "nice": false, "zero": false}, "axis": null}
}
},
{
"transform": [{"window": [{"op": "lag", "field": "v", "as": "pv"}], "sort": [{"field": "i", "order": "ascending"}]}],
"mark": {"type": "bar", "size": 4.5, "orient": "vertical"},
"encoding": {
"x": {"field": "i", "type": "quantitative", "scale": {"domain": [-0.62, 419.2], "nice": false, "zero": false}, "axis": null},
"y": {"field": "v", "type": "quantitative", "scale": {"domain": [0, 7466.7], "range": [1278, 1166], "nice": false, "zero": false},
"axis": {"orient": "left", "title": null, "values": [500,1000,1500,2000,2500,3000,3500,4000,4500,5000,5500,6000,6500,7000],
"labelExpr": "datum.value % 1000 == 0 ? toString(datum.value) : ''", "tickSize": 3, "tickColor": "#404040", "domain": false, "grid": false, "labelFontSize": 7.5, "labelColor": "#333333", "labelPadding": 1, "labelOverlap": false, "labelFlush": false, "labelBound": false}},
"y2": {"datum": 0},
"color": {"condition": {"test": "datum.pv != null && datum.v > datum.pv", "value": "#ffffff"}, "value": "#808080"}
}
},
{
"data": {"name": "one"},
"mark": {"type": "rect", "color": "#f26b6b"},
"encoding": {
"x": {"datum": 419.55, "type": "quantitative", "scale": {"domain": [-0.62, 419.2], "nice": false, "zero": false}, "axis": null},
"x2": {"datum": 425.45},
"y": {"datum": 7267, "type": "quantitative", "scale": {"domain": [0, 7466.7], "range": [1278, 1166], "nice": false, "zero": false},
"axis": {"orient": "right", "title": null, "values": [500,1000,1500,2000,2500,3000,3500,4000,4500,5000,5500,6000,6500,7000],
"labelExpr": "datum.value % 1000 == 0 && datum.value < 6000 ? toString(datum.value) : ''", "tickSize": 3, "tickColor": "#404040", "domain": false, "grid": false, "labelFontSize": 7.5, "labelColor": "#333333", "labelPadding": 2, "labelOverlap": false, "labelFlush": false, "labelBound": false}},
"y2": {"datum": 6667}
}
},
{
"data": {"name": "one"},
"mark": {"type": "rect", "color": "#f26b6b"},
"encoding": {
"x": {"datum": 419.55, "type": "quantitative", "scale": {"domain": [-0.62, 419.2], "nice": false, "zero": false}, "axis": null},
"x2": {"datum": 425.45},
"y": {"datum": 319.62, "type": "quantitative", "scale": {"domain": [315.0714, 320.2768], "range": [1166, 0], "nice": false, "zero": false}, "axis": null},
"y2": {"datum": 319.58}
}
},
{
"data": {"name": "one"},
"mark": {"type": "text", "text": "319.60", "color": "#ffffff", "fontSize": 8, "font": "Liberation Sans", "align": "center", "baseline": "middle"},
"encoding": {
"x": {"datum": 422.5, "type": "quantitative", "scale": {"domain": [-0.62, 419.2], "nice": false, "zero": false}, "axis": null},
"y": {"datum": 319.6, "type": "quantitative", "scale": {"domain": [315.0714, 320.2768], "range": [1166, 0], "nice": false, "zero": false}, "axis": null}
}
},
{
"data": {"name": "one"},
"mark": {"type": "text", "text": "1.09%", "color": "#e03c3c", "fontSize": 8, "font": "Liberation Sans", "align": "center", "baseline": "middle"},
"encoding": {
"x": {"datum": 422.6, "type": "quantitative", "scale": {"domain": [-0.62, 419.2], "nice": false, "zero": false}, "axis": null},
"y": {"datum": 319.558, "type": "quantitative", "scale": {"domain": [315.0714, 320.2768], "range": [1166, 0], "nice": false, "zero": false}, "axis": null}
}
},
{
"data": {"name": "one"},
"mark": {"type": "text", "text": "6,913", "color": "#ffffff", "fontSize": 8, "font": "Liberation Sans", "align": "center", "baseline": "middle"},
"encoding": {
"x": {"datum": 422.5, "type": "quantitative", "scale": {"domain": [-0.62, 419.2], "nice": false, "zero": false}, "axis": null},
"y": {"datum": 6967, "type": "quantitative", "scale": {"domain": [0, 7466.7], "range": [1278, 1166], "nice": false, "zero": false}, "axis": null}
}
},
{
"data": {"name": "one"},
"mark": {"type": "text", "text": "402.62%", "color": "#e03c3c", "fontSize": 8, "font": "Liberation Sans", "align": "center", "baseline": "middle"},
"encoding": {
"x": {"datum": 422.6, "type": "quantitative", "scale": {"domain": [-0.62, 419.2], "nice": false, "zero": false}, "axis": null},
"y": {"datum": 6333, "type": "quantitative", "scale": {"domain": [0, 7466.7], "range": [1278, 1166], "nice": false, "zero": false}, "axis": null}
}
},
{
"data": {"name": "one"},
"mark": {"type": "text", "text": "11/3", "color": "#111111", "fontSize": 9, "fontWeight": "bold", "font": "Liberation Sans", "align": "center", "baseline": "middle"},
"encoding": {
"x": {"datum": 5.75, "type": "quantitative", "scale": {"domain": [-0.62, 419.2], "nice": false, "zero": false}, "axis": null},
"y": {"datum": -533, "type": "quantitative", "scale": {"domain": [0, 7466.7], "range": [1278, 1166], "nice": false, "zero": false}, "axis": null}
}
},
{
"data": {"name": "hours"},
"mark": {"type": "text", "color": "#555555", "fontSize": 9, "font": "Liberation Sans", "align": "center", "baseline": "middle"},
"encoding": {
"x": {"field": "i", "type": "quantitative", "scale": {"domain": [-0.62, 419.2], "nice": false, "zero": false}, "axis": null},
"y": {"datum": -533, "type": "quantitative", "scale": {"domain": [0, 7466.7], "range": [1278, 1166], "nice": false, "zero": false}, "axis": null},
"text": {"field": "t"}
}
},
{
"data": {"name": "one"},
"mark": {"type": "text", "text": "2023-11-02 오후 3:32:00", "color": "#000000", "fontSize": 9.5, "fontWeight": "bold", "font": "Noto Sans CJK KR", "align": "left", "baseline": "middle"},
"encoding": {
"x": {"datum": -6.3, "type": "quantitative", "scale": {"domain": [-0.62, 419.2], "nice": false, "zero": false}, "axis": null},
"y": {"datum": 320.3214, "type": "quantitative", "scale": {"domain": [315.0714, 320.2768], "range": [1166, 0], "nice": false, "zero": false}, "axis": null}
}
},
{
"data": {"name": "one"},
"mark": {"type": "text", "text": "코스피200 연결 (10100), 1분", "color": "#1a1a1a", "fontSize": 11, "font": "Noto Sans CJK KR", "align": "center", "baseline": "middle"},
"encoding": {
"x": {"datum": 209.38, "type": "quantitative", "scale": {"domain": [-0.62, 419.2], "nice": false, "zero": false}, "axis": null},
"y": {"datum": 320.3214, "type": "quantitative", "scale": {"domain": [315.0714, 320.2768], "range": [1166, 0], "nice": false, "zero": false}, "axis": null}
}
},
{
"data": {"name": "one"},
"mark": {"type": "text", "text": "2023-11-03 오후 3:45:00", "color": "#000000", "fontSize": 9.5, "fontWeight": "bold", "font": "Noto Sans CJK KR", "align": "right", "baseline": "middle"},
"encoding": {
"x": {"datum": 425.13, "type": "quantitative", "scale": {"domain": [-0.62, 419.2], "nice": false, "zero": false}, "axis": null},
"y": {"datum": 320.3214, "type": "quantitative", "scale": {"domain": [315.0714, 320.2768], "range": [1166, 0], "nice": false, "zero": false}, "axis": null}
}
},
{
"data": {"name": "one"},
"mark": {"type": "text", "text": "Daishin Securities Co. Ltd.", "color": "#000000", "fontSize": 9, "fontWeight": "bold", "font": "Liberation Sans", "align": "right", "baseline": "middle"},
"encoding": {
"x": {"datum": 425.13, "type": "quantitative", "scale": {"domain": [-0.62, 419.2], "nice": false, "zero": false}, "axis": null},
"y": {"datum": -1533, "type": "quantitative", "scale": {"domain": [0, 7466.7], "range": [1278, 1166], "nice": false, "zero": false}, "axis": null}
}
},
{
"data": {"name": "one"},
"mark": {"type": "rule", "color": "#8a8a8a", "strokeWidth": 1.5},
"encoding": {
"x": {"datum": -7, "type": "quantitative", "scale": {"domain": [-0.62, 419.2], "nice": false, "zero": false}, "axis": null},
"x2": {"datum": 426},
"y": {"datum": 320.2768, "type": "quantitative", "scale": {"domain": [315.0714, 320.2768], "range": [1166, 0], "nice": false, "zero": false}, "axis": null}
}
},
{
"data": {"name": "one"},
"mark": {"type": "rule", "color": "#bdbdbd", "strokeWidth": 1.5},
"encoding": {
"x": {"datum": -7, "type": "quantitative", "scale": {"domain": [-0.62, 419.2], "nice": false, "zero": false}, "axis": null},
"x2": {"datum": 426},
"y": {"datum": 7466.7, "type": "quantitative", "scale": {"domain": [0, 7466.7], "range": [1278, 1166], "nice": false, "zero": false}, "axis": null}
}
},
{
"data": {"name": "one"},
"mark": {"type": "rule", "color": "#a0a0a0", "strokeWidth": 1},
"encoding": {
"x": {"datum": -7, "type": "quantitative", "scale": {"domain": [-0.62, 419.2], "nice": false, "zero": false}, "axis": null},
"x2": {"datum": 419.2},
"y": {"datum": 0, "type": "quantitative", "scale": {"domain": [0, 7466.7], "range": [1278, 1166], "nice": false, "zero": false}, "axis": null}
}
},
{
"data": {"name": "one"},
"mark": {"type": "rect", "fill": "#ffffff", "fillOpacity": 0, "stroke": "#303030", "strokeWidth": 1},
"encoding": {
"x": {"datum": -0.62, "type": "quantitative", "scale": {"domain": [-0.62, 419.2], "nice": false, "zero": false}, "axis": null},
"x2": {"datum": 419.2},
"y": {"datum": 0, "type": "quantitative", "scale": {"domain": [0, 7466.7], "range": [1278, 1166], "nice": false, "zero": false}, "axis": null},
"y2": {"datum": -866.7}
}
},
{
"data": {"name": "one"},
"mark": {"type": "rule", "color": "#3c3c3c", "strokeWidth": 1, "strokeDash": [1, 2]},
"encoding": {
"x": {"datum": 4.5, "type": "quantitative", "scale": {"domain": [-0.62, 419.2], "nice": false, "zero": false}, "axis": null},
"y": {"datum": 85200, "type": "quantitative", "scale": {"domain": [0, 7466.7], "range": [1278, 1166], "nice": false, "zero": false}, "axis": null},
"y2": {"datum": -866.7}
}
}
]
}
